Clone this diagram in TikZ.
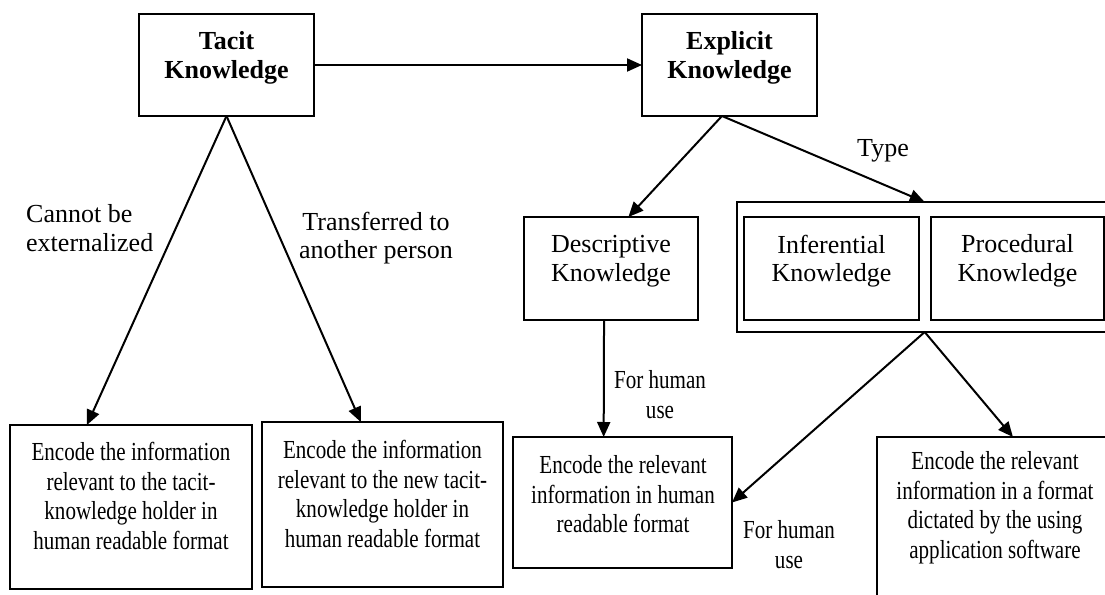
\documentclass[tikz,border=0pt]{standalone}
\usepackage{fontspec}
\setmainfont{Liberation Serif}
\newfontfamily\cond[FakeStretch=0.81]{Liberation Serif}
\usetikzlibrary{arrows.meta,calc}
\tikzset{
  box/.style={draw, line width=2pt, inner sep=0pt, outer sep=0pt},
  conn/.style={line width=2pt, -{Triangle[length=15pt,width=13pt]}},
  upper/.style={inner sep=0pt, align=center, font=\fontsize{26}{28.5}\selectfont},
  lower/.style={inner sep=0pt, align=center, font=\cond\fontsize{26}{29.5}\selectfont},
}
\begin{document}
\begin{tikzpicture}[x=1pt,y=-1pt]
\clip (0,0) rectangle (1105,594);
\fill[white] (0,0) rectangle (1105,594);

% boxes
\node[box, minimum width=175, minimum height=102] (tacit) at (226.5,65) {};
\node[box, minimum width=175, minimum height=102] (explicit) at (729.5,65) {};
\node[box, minimum width=174, minimum height=103] (desc) at (611,268.5) {};
\node[box, minimum width=383, minimum height=130] (outer) at (928.5,267) {};
\node[box, minimum width=175, minimum height=103] (inf) at (831.5,268.5) {};
\node[box, minimum width=173, minimum height=103] (proc) at (1017.5,268.5) {};
\node[box, minimum width=242, minimum height=164] (lb) at (130.5,507) {};
\node[box, minimum width=241, minimum height=165] (sb) at (382.5,504.5) {};
\node[box, minimum width=219, minimum height=131] (mb) at (622.5,502.5) {};
\node[box, minimum width=236, minimum height=183] (rb) at (995,528.5) {};

% box texts
\node[upper, font=\bfseries\fontsize{26}{28.5}\selectfont] (tacitT) at (226.5,58) {Tacit\\Knowledge};
\node[upper, font=\bfseries\fontsize{26}{28.5}\selectfont] (explicitT) at (729.5,58) {Explicit\\Knowledge};
\node[upper] (descT) at (611,261) {Descriptive\\Knowledge};
\node[upper] (infT) at (831.5,261) {Inferential\\Knowledge};
\node[upper] (procT) at (1017.5,261) {Procedural\\Knowledge};
\node[lower] (lbT) at (131,496) {Encode the information\\relevant to the tacit-\\knowledge holder in\\human readable format};
\node[lower] (sbT) at (382.5,494) {Encode the information\\relevant to the new tacit-\\knowledge holder in\\human readable format};
\node[lower] (mbT) at (623,494.5) {Encode the relevant\\information in human\\readable format};
\node[lower] (rbT) at (995,507.5) {Encode the relevant\\information in a format\\dictated by the using\\application software};

% connectors
\draw[conn] (tacit.east) -- (explicit.west);
\draw[conn] (tacit.south) -- ($(lb.north west)!0.32!(lb.north east)$);
\draw[conn] (tacit.south) -- ($(sb.north west)!0.41!(sb.north east)$);
\draw[conn] ($(explicit.south west)!0.457!(explicit.south east)$) -- ($(desc.north west)!0.6!(desc.north east)$);
\draw[conn] ($(explicit.south west)!0.457!(explicit.south east)$) -- ($(outer.north west)!0.49!(outer.north east)$);
\draw[conn] ($(desc.south west)!0.46!(desc.south east)$) -- ($(mb.north west)!0.414!(mb.north east)$);
\draw[conn] ($(outer.south west)!0.49!(outer.south east)$) -- (mb.east);
\draw[conn] ($(outer.south west)!0.49!(outer.south east)$) -- ($(rb.north west)!0.576!(rb.north east)$);

% labels
\node[upper, anchor=west, align=left] (cannot) at (26,228) {Cannot be\\externalized};
\node[upper] (transf) at (376,238) {Transferred to\\another person};
\node[upper] (type) at (883,151) {Type};
\node[lower] (fh1) at (660,394.5) {For human\\use};
\node[lower] (fh2) at (789,544.5) {For human\\use};
\end{tikzpicture}
\end{document}
